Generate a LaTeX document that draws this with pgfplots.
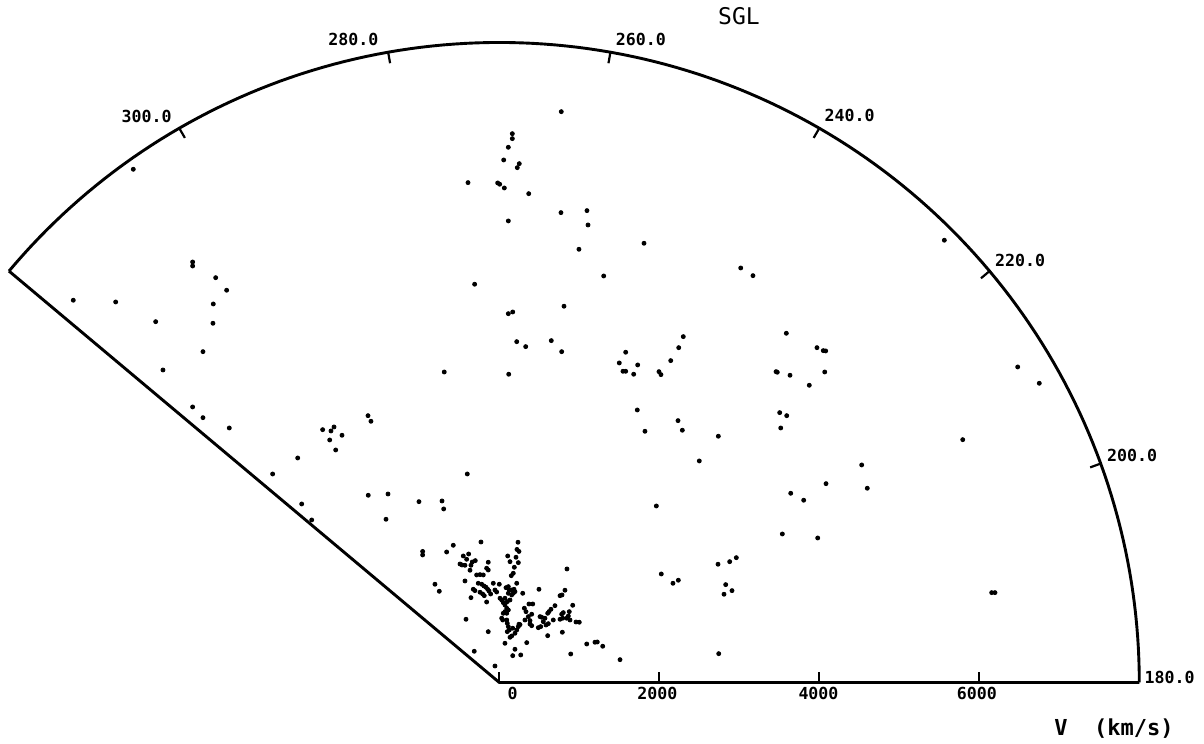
\documentclass[border=0pt]{standalone}
\usepackage{fontspec}
\usepackage{pgfplots}
\usepackage{pgfplotstable}
\pgfplotsset{compat=1.18}
\newfontfamily\plotfont{DejaVu Sans Mono}

% galaxies, projected on the wedge plane: x = V cos(SGL-180), y = V sin(SGL-180), km/s
\pgfplotstableread{
x y
775 7135
163 6860
163 6798
113 6690
55 6531
250 6485
225 6435
-391 6248
-20 6244
5 6228
63 6181
368 6110
771 5873
1096 5898
1109 5719
113 5769
1809 5490
996 5415
1305 5081
-308 4978
809 4703
113 4610
168 4631
218 4260
330 4198
650 4273
780 4135
2300 4323
2243 4185
2143 4023
1580 4128
1500 3994
1730 3969
1546 3890
1580 3890
1680 3853
1996 3885
2021 3848
-688 3881
118 3853
-4575 6415
-3833 5256
-3833 5206
-3545 5060
-3408 4903
-3575 4731
-3579 4490
-5325 4778
-4795 4756
-4295 4510
-3704 4135
-4204 3906
-3833 3444
-3704 3310
-3375 3181
-2208 3160
-2104 3144
-2066 3194
-1966 3090
-2120 3031
-2045 2906
-1641 3335
-1604 3265
-2520 2806
-2833 2606
-2470 2231
-2345 2031
-400 2606
-1638 2340
-1391 2356
-1004 2260
-716 2269
-695 2169
-1416 2040
3018 5181
3171 5085
3588 4365
3971 4185
4050 4148
4080 4144
3459 3885
3475 3878
3634 3840
4068 3881
3875 3715
3505 3373
3593 3335
3518 3181
1725 3406
2234 3273
1821 3140
2288 3153
2738 3078
5563 5528
6480 3944
6750 3740
5793 3035
2500 2769
1963 2206
4530 2719
4084 2485
4600 2428
3643 2365
3805 2278
3538 1856
3980 1806
2734 1478
2880 1510
2963 1560
2025 1356
2171 1240
2238 1278
2830 1223
2909 1148
2809 1103
2743 360
6155 1123
6196 1123
-958 1638
-958 1594
-575 1715
-658 1631
-229 1756
234 1753
221 1663
246 1638
209 1565
105 1581
134 1510
238 1498
188 1440
175 1365
150 1335
-450 1581
-383 1606
-408 1540
-491 1481
-466 1469
-429 1465
-338 1506
-300 1523
-354 1465
-138 1503
-366 1403
-158 1428
-138 1406
-283 1344
-241 1348
-200 1344
-429 1269
-804 1228
-750 1140
-263 1240
-220 1228
-191 1206
-166 1190
-145 1165
-129 1144
-325 1165
-304 1148
-241 1128
-208 1106
-188 1085
-354 1060
-75 1240
0 1228
-54 1156
-33 1131
-108 1106
-158 1006
9 1053
30 1031
50 998
84 1185
113 1198
125 1156
155 1156
184 1165
218 1240
113 1115
155 1094
175 1115
196 1135
71 1053
134 1031
100 1010
293 1115
71 969
93 928
71 885
50 865
93 865
113 906
30 803
43 781
93 781
100 740
113 698
125 656
100 635
168 678
218 656
196 615
155 581
134 565
246 728
71 490
343 498
196 415
168 335
268 344
-313 390
-54 206
-138 635
-416 790
496 1165
846 1419
821 1153
759 1085
784 1094
918 965
696 960
646 915
621 885
605 865
800 873
780 853
875 885
863 831
843 803
884 781
959 756
1000 753
759 790
793 803
675 781
571 803
550 760
509 823
530 815
613 735
584 719
488 685
518 698
371 981
418 981
313 928
334 885
405 853
363 823
321 781
384 773
384 731
405 710
259 723
238 698
605 585
788 628
893 356
1093 481
1196 503
1225 506
1293 453
1509 285
}\galaxies

\begin{document}
\begin{tikzpicture}
\begin{axis}[
  x=0.04pt, y=0.04pt,
  xmin=-6241, xmax=8809, ymin=-769, ymax=8531,
  hide axis, clip=false,
]
\path (axis cs:-6241,-769) rectangle (axis cs:8809,8531);
% wedge frame
\addplot[black, line width=1.45pt, domain=0:140, samples=281, variable=\t] ({8000*cos(\t)},{8000*sin(\t)});
\addplot[black, line width=1.45pt, line join=miter] coordinates {(8000,0) (0,0) (-6128.4,5142.3)};
% angular ticks
\pgfplotsinvokeforeach{20,40,60,80,100,120}{
  \draw[black, line width=1.1pt] (axis cs:{8000*cos(#1)},{8000*sin(#1)}) -- (axis cs:{7860*cos(#1)},{7860*sin(#1)});
}
% radial ticks
\pgfplotsinvokeforeach{0,2000,4000,6000}{
  \draw[black, line width=1.1pt] (axis cs:#1,0) -- (axis cs:#1,130);
}
% galaxies
\addplot[only marks, mark=*, mark size=1pt, black] table[x=x,y=y] {\galaxies};
% labels
\begin{scope}[every node/.style={inner sep=0pt, font=\plotfont\bfseries\fontsize{8.3}{10}\selectfont}]
\node at (axis cs:-4408,7081) {300.0};
\node at (axis cs:-1823,8038) {280.0};
\node at (axis cs:1771,8040) {260.0};
\node at (axis cs:4378,7085) {240.0};
\node at (axis cs:6509,5281) {220.0};
\node at (axis cs:7909,2835) {200.0};
\node at (axis cs:8380,60) {180.0};
\node at (axis cs:168,-135) {0};
\node at (axis cs:1975,-135) {2000};
\node at (axis cs:3990,-135) {4000};
\node at (axis cs:5970,-135) {6000};
\end{scope}
\node[inner sep=0pt, font=\plotfont\fontsize{11.5}{13}\selectfont] at (axis cs:2996,8323) {SGL};
\node[inner sep=0pt, font=\plotfont\bfseries\fontsize{11}{13}\selectfont] at (axis cs:7684,-573) {V\ \ (km/s)};
\end{axis}
\end{tikzpicture}
\end{document}
